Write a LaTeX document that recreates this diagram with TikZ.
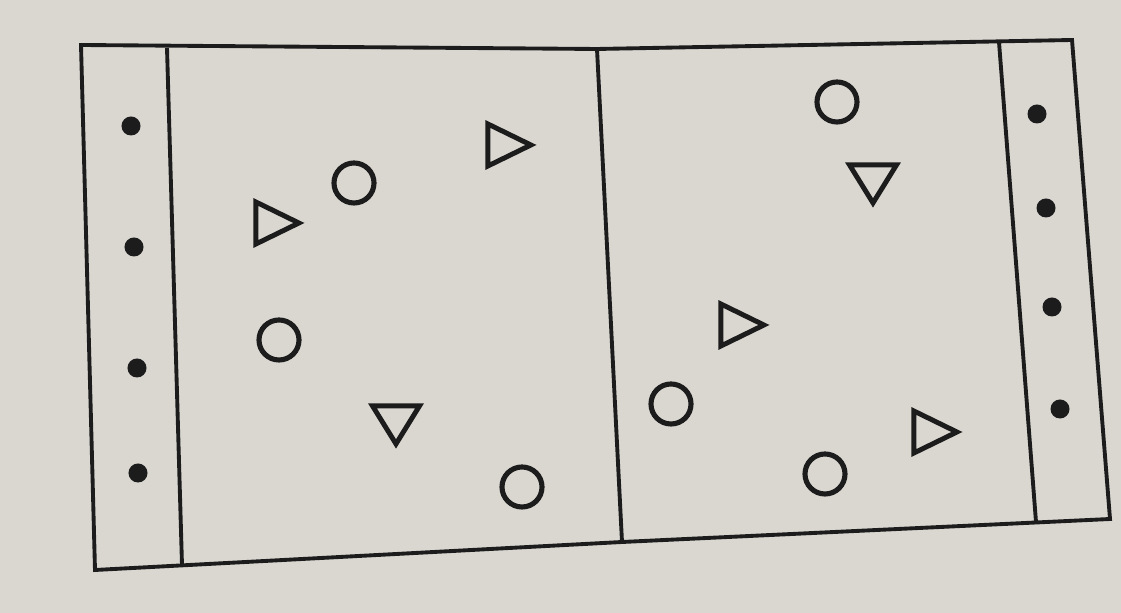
\documentclass[tikz,border=0pt]{standalone}
\usepackage{tikz}
\usetikzlibrary{shapes.geometric}
\definecolor{paper}{HTML}{DAD7D1}
\definecolor{ink}{HTML}{1C1C1C}
\tikzset{
  line/.style={draw=ink, line width=1.1pt, line join=miter},
  dot/.style={circle, fill=ink, minimum size=0.19cm, inner sep=0pt},
  ring/.style={circle, draw=ink, line width=1.45pt, minimum size=0.40cm, inner sep=0pt},
  tri/.style={isosceles triangle, isosceles triangle stretches, draw=ink, line width=1.4pt,
    minimum height=0.43cm, minimum width=0.42cm, inner sep=0pt},
  trir/.style={tri},
  trid/.style={tri, shape border rotate=-90, minimum width=0.47cm, minimum height=0.38cm},
}
\begin{document}
\begin{tikzpicture}[x=0.01cm, y=-0.01cm]
  \useasboundingbox[fill=paper] (0,0) rectangle (1121,613);
  % corners of the field
  \coordinate (tl) at (81,45);
  \coordinate (tm) at (597,49);
  \coordinate (tr) at (1072,40);
  \coordinate (br) at (1110,519);
  \coordinate (bm) at (622,542);
  \coordinate (bl) at (95,570);
  \coordinate (la) at (167,48);
  \coordinate (lb) at (182,565);
  \coordinate (ra) at (999,42);
  \coordinate (rb) at (1036,522);
  \draw[line] (tl) -- (tm) -- (tr) -- (br) -- (bm) -- (bl) -- cycle;
  \draw[line] (la) -- (lb);
  \draw[line] (tm) -- (bm);
  \draw[line] (ra) -- (rb);
  % players
  \foreach \px/\py [count=\i] in {131/126, 134/247, 137/368, 138/473}
    \node[dot] (l\i) at (\px,\py) {};
  \foreach \px/\py [count=\i] in {1037/114, 1046/208, 1052/307, 1060/409}
    \node[dot] (r\i) at (\px,\py) {};
  \foreach \px/\py [count=\i] in {354/183, 279/340, 522/487, 837/102, 671/404, 825/474}
    \node[ring] (c\i) at (\px,\py) {};
  \foreach \px/\py [count=\i] in {501/145, 269/223, 734/325, 927/432}
    \node[trir] (t\i) at (\px,\py) {};
  \foreach \px/\py [count=\i] in {396/419, 873/178}
    \node[trid] (d\i) at (\px,\py) {};
\end{tikzpicture}
\end{document}
